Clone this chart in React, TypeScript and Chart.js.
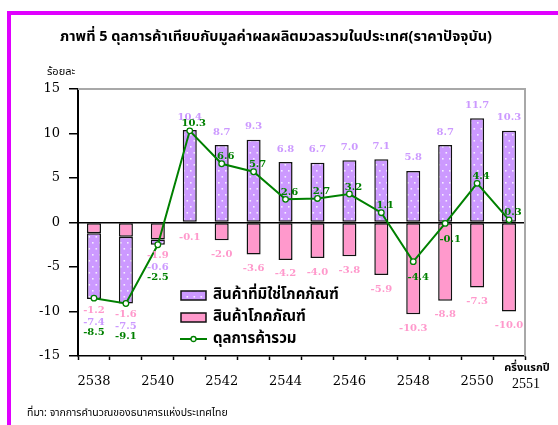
import React, { useEffect, useRef } from "react";
import { Chart, registerables } from "chart.js";

Chart.register(...registerables);

const categories = ["2538", "2539", "2540", "2541", "2542", "2543", "2544", "2545", "2546", "2547", "2548", "2549", "2550", "2551"];
const nonCommodity = [-7.4, -7.5, -0.6, 10.4, 8.7, 9.3, 6.8, 6.7, 7.0, 7.1, 5.8, 8.7, 11.7, 10.3];
const commodity = [-1.2, -1.6, -1.9, -0.1, -2.0, -3.6, -4.2, -4.0, -3.8, -5.9, -10.3, -8.8, -7.3, -10.0];
const tradeBalance = [-8.5, -9.1, -2.5, 10.3, 6.6, 5.7, 2.6, 2.7, 3.2, 1.1, -4.4, -0.1, 4.4, 0.3];
const yTicks = [-15, -10, -5, 0, 5, 10, 15];

const seriesNames = ["สินค้าที่มิใช่โภคภัณฑ์", "สินค้าโภคภัณฑ์", "ดุลการค้ารวม"];
const titleText = "ภาพที่ 5  ดุลการค้าเทียบกับมูลค่าผลผลิตมวลรวมในประเทศ(ราคาปัจจุบัน)";
const unitText = "ร้อยละ";
const lastNote = "ครึ่งแรกปี";
const sourceText = "ที่มา: จากการคำนวณของธนาคารแห่งประเทศไทย";

const PURPLE = "#cc99ff";
const PINK = "#ff99cc";
const GREEN = "#008000";
const THAI = "'Noto Sans Thai', 'Loma', 'Garuda', 'Tahoma', 'DejaVu Sans', sans-serif";
const NUMFONT = "DejaVu Serif";

function makeDots(): CanvasPattern | string {
  const c = document.createElement("canvas");
  c.width = 7;
  c.height = 12;
  const g = c.getContext("2d");
  if (!g) return PURPLE;
  g.fillStyle = PURPLE;
  g.fillRect(0, 0, 7, 12);
  g.fillStyle = "#f4ecff";
  g.fillRect(1, 2, 1.6, 1.6);
  g.fillRect(4.5, 8, 1.6, 1.6);
  const p = g.createPattern(c, "repeat");
  return p || PURPLE;
}

const fmt = (v: number) => v.toFixed(1);

export default function App() {
  const ref = useRef<HTMLCanvasElement | null>(null);

  useEffect(() => {
    if (!ref.current) return;
    const dots = makeDots();

    const borderPlugin = {
      id: "frameLines",
      beforeDatasetsDraw(chart: any) {
        const { ctx, chartArea } = chart;
        ctx.save();
        ctx.strokeStyle = "#a8a8a8";
        ctx.lineWidth = 2;
        ctx.beginPath();
        ctx.moveTo(chartArea.left, chartArea.top);
        ctx.lineTo(chartArea.right, chartArea.top);
        ctx.lineTo(chartArea.right, chartArea.bottom);
        ctx.stroke();
        ctx.restore();
      },
    };

    const labelPlugin = {
      id: "valueLabels",
      afterDatasetsDraw(chart: any) {
        const { ctx } = chart;
        const xs = chart.scales.x;
        const ys = chart.scales.y;
        ctx.save();
        ctx.font = "bold 10px '" + NUMFONT + "', serif";
        ctx.textAlign = "center";
        ctx.textBaseline = "middle";
        for (let i = 0; i < categories.length; i++) {
          const x = xs.getPixelForValue(i);
          const a = nonCommodity[i];
          const b = commodity[i];
          const t = tradeBalance[i];
          if (a < 0) {
            const bottom = ys.getPixelForValue(a + b);
            ctx.fillStyle = PINK;
            ctx.fillText(fmt(b), x, bottom + 11);
            ctx.fillStyle = PURPLE;
            ctx.fillText(fmt(a), x, bottom + 23);
            ctx.fillStyle = GREEN;
            ctx.fillText(fmt(t), x, bottom + 33);
          } else {
            ctx.fillStyle = PURPLE;
            ctx.fillText(fmt(a), x, ys.getPixelForValue(a) - 13);
            ctx.fillStyle = PINK;
            ctx.fillText(fmt(b), x, ys.getPixelForValue(b) + 14);
            ctx.fillStyle = GREEN;
            const py = ys.getPixelForValue(t);
            if (t >= 0) ctx.fillText(fmt(t), x + 4, py - 7);
            else ctx.fillText(fmt(t), x + 5, py + 16);
          }
        }
        ctx.restore();
      },
    };

    const extrasPlugin = {
      id: "extras",
      afterDraw(chart: any) {
        const { ctx, chartArea } = chart;
        const last = categories.length - 1;
        ctx.save();
        ctx.fillStyle = "#000";
        ctx.textAlign = "center";
        ctx.textBaseline = "middle";
        ctx.font = "bold 11px " + THAI;
        ctx.fillText(lastNote, chartArea.right + 2, chartArea.bottom + 13);
        ctx.font = "14px 'Liberation Serif', serif";
        ctx.fillText(categories[last], chartArea.right + 1, chartArea.bottom + 28);

        // legend
        const lx = chartArea.left + 103;
        const ly = chartArea.top + 202;
        ctx.lineWidth = 1.5;
        ctx.strokeStyle = "#111";
        ctx.fillStyle = dots as any;
        ctx.fillRect(lx, ly, 25, 9);
        ctx.strokeRect(lx, ly, 25, 9);
        ctx.fillStyle = PINK;
        ctx.fillRect(lx, ly + 22, 25, 9);
        ctx.strokeRect(lx, ly + 22, 25, 9);
        ctx.strokeStyle = GREEN;
        ctx.lineWidth = 2;
        ctx.beginPath();
        ctx.moveTo(lx - 1, ly + 48);
        ctx.lineTo(lx + 26, ly + 48);
        ctx.stroke();
        ctx.fillStyle = "#fff";
        ctx.lineWidth = 1.3;
        ctx.beginPath();
        ctx.arc(lx + 12.5, ly + 48, 2.5, 0, Math.PI * 2);
        ctx.fill();
        ctx.stroke();
        ctx.fillStyle = "#000";
        ctx.textAlign = "left";
        ctx.font = "bold 15px " + THAI;
        ctx.fillText(seriesNames[0], lx + 32, ly + 5);
        ctx.fillText(seriesNames[1], lx + 32, ly + 27);
        ctx.fillText(seriesNames[2], lx + 32, ly + 49);
        ctx.restore();
      },
    };

    const chart = new Chart(ref.current, {
      type: "bar",
      data: {
        labels: categories,
        datasets: [
          {
            type: "bar",
            label: seriesNames[0],
            data: nonCommodity,
            backgroundColor: dots as any,
            borderColor: "#111",
            borderWidth: 1.5,
            borderSkipped: false,
            stack: "s",
            order: 2,
            barPercentage: 0.44,
            categoryPercentage: 1,
          },
          {
            type: "bar",
            label: seriesNames[1],
            data: commodity,
            backgroundColor: PINK,
            borderColor: "#111",
            borderWidth: 1.5,
            borderSkipped: false,
            stack: "s",
            order: 1,
            barPercentage: 0.44,
            categoryPercentage: 1,
          },
          {
            type: "line",
            label: seriesNames[2],
            data: tradeBalance,
            borderColor: GREEN,
            borderWidth: 2,
            pointRadius: 2.8,
            pointBorderWidth: 1.3,
            pointBackgroundColor: "#fff",
            pointBorderColor: GREEN,
            tension: 0,
            stack: "line",
            order: 0,
          } as any,
        ],
      },
      options: {
        responsive: false,
        animation: false,
        events: [],
        layout: { padding: { left: 0, top: 89, right: 33, bottom: 0 } },
        plugins: { legend: { display: false }, title: { display: false }, tooltip: { enabled: false } },
        scales: {
          x: {
            stacked: true,
            offset: true,
            grid: {
              display: true,
              offset: true,
              drawOnChartArea: false,
              tickLength: 4,
              tickColor: "#000",
              tickWidth: 1.5,
            },
            border: { display: true, color: "#000", width: 1.5 },
            ticks: {
              autoSkip: false,
              maxRotation: 0,
              minRotation: 0,
              padding: 14,
              color: "#000",
              font: { family: NUMFONT, size: 13, weight: "normal" },
              callback: (_v: any, i: number) => (i % 2 === 0 && i < categories.length - 1 ? categories[i] : ""),
            },
            afterFit: (s: any) => {
              s.height = 69;
            },
          },
          y: {
            stacked: true,
            min: -15,
            max: 15,
            afterBuildTicks: (s: any) => {
              s.ticks = yTicks.map((v) => ({ value: v }));
            },
            grid: {
              drawOnChartArea: true,
              color: (c: any) => (c.tick && c.tick.value === 0 ? "#000" : "rgba(0,0,0,0)"),
              lineWidth: 1.5,
              tickLength: 9,
              tickColor: "#000",
              tickWidth: 1.5,
            },
            border: { display: true, color: "#000", width: 2 },
            ticks: {
              padding: 9,
              color: "#000",
              font: { family: NUMFONT, size: 13, weight: "normal" },
              callback: (v: any) => String(v),
            },
            afterFit: (s: any) => {
              s.width = 78;
            },
          },
        },
      },
      plugins: [borderPlugin, labelPlugin, extrasPlugin],
    });
    return () => chart.destroy();
  }, []);

  return (
    <div style={{ position: "fixed", left: 0, top: 0, width: 558, height: 425, overflow: "hidden", background: "#fff" }}>
      <div
        style={{
          position: "absolute",
          left: 7,
          top: 11,
          width: 700,
          height: 600,
          borderTop: "4px solid #e000ff",
          borderLeft: "4px solid #e000ff",
        }}
      />
      <canvas ref={ref} width={558} height={425} style={{ position: "absolute", left: 0, top: 0, width: 558, height: 425 }} />
      <div
        style={{
          position: "absolute",
          left: 0,
          top: 26,
          width: 552,
          textAlign: "center",
          fontFamily: THAI,
          fontWeight: "bold",
          fontSize: 14.5,
          lineHeight: "22px",
          color: "#000",
          whiteSpace: "nowrap",
        }}
      >
        {titleText}
      </div>
      <div style={{ position: "absolute", left: 47, top: 64, fontFamily: THAI, fontSize: 11, lineHeight: "16px", color: "#000" }}>
        {unitText}
      </div>
      <div style={{ position: "absolute", left: 27, top: 405, fontFamily: THAI, fontSize: 10.5, lineHeight: "16px", color: "#000" }}>
        {sourceText}
      </div>
    </div>
  );
}
